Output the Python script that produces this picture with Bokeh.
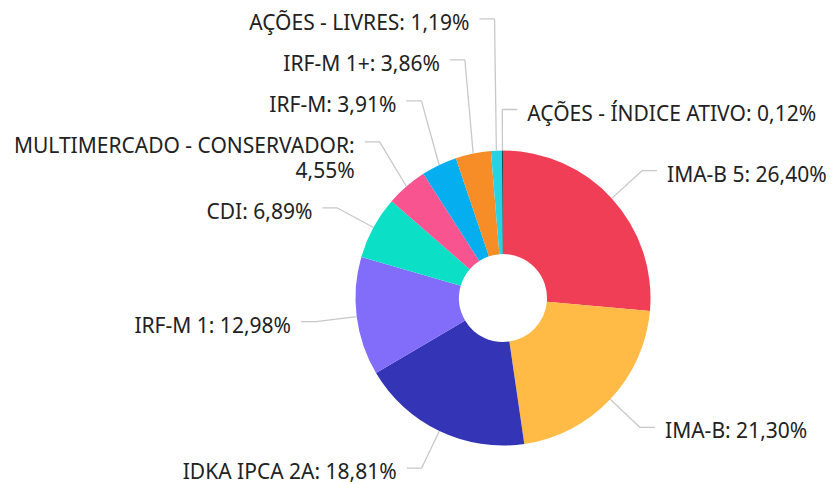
import math
from bokeh.plotting import figure
from bokeh.embed import file_html
from bokeh.resources import INLINE
from bokeh.models import Range1d, ColumnDataSource
from bokeh.core.properties import value

# ---- data ----
categories = ["IMA-B 5", "IMA-B", "IDKA IPCA 2A", "IRF-M 1", "CDI",
              "MULTIMERCADO - CONSERVADOR", "IRF-M", "IRF-M 1+",
              "AÇÕES - LIVRES", "AÇÕES - ÍNDICE ATIVO"]
shares = [26.40, 21.30, 18.81, 12.98, 6.89, 4.55, 3.91, 3.86, 1.19, 0.12]
colors = ["#EF3E55", "#FFBB46", "#3434B6", "#826DFA", "#0BE0C6",
          "#F85590", "#05AEEF", "#F68D26", "#26D2E4", "#174F57"]

# ---- layout constants ----
W, H = 832, 484
CX, CY = 502.5, H - 297.5
R_OUT, R_IN = 147.5, 44
LEN1, LEN2, GAP = 41, 15, 10
SPACING, LINE_H = 41, 25
FONT_NAME = "Noto Sans"
FONT = "21px"
MID_OFF = 3

p = figure(width=W, height=H, output_backend="svg", toolbar_location=None,
           x_range=Range1d(0, W), y_range=Range1d(0, H), min_border=0)
p.axis.visible = False
p.grid.visible = False
p.outline_line_color = None

total = sum(shares)
starts, ends, mids = [], [], []
c = 0.0
for v in shares:
    c0 = c
    c1 = c + v / total
    starts.append(math.pi / 2 - 2 * math.pi * c1)
    ends.append(math.pi / 2 - 2 * math.pi * c0)
    mids.append(2 * math.pi * (c0 + c1) / 2)
    c = c1

src = ColumnDataSource(dict(start=starts, end=ends, color=colors))
p.annular_wedge(x=CX, y=CY, inner_radius=R_IN, outer_radius=R_OUT,
                start_angle="start", end_angle="end", direction="anticlock",
                fill_color="color", line_color=None, source=src)

def fmt(v):
    return f"{v:.2f}".replace(".", ",") + "%"

def est_width(s):
    return sum(12 if ch.isupper() else 9 for ch in s)

labels = []
for name, v, a in zip(categories, shares, mids):
    s, co = math.sin(a), math.cos(a)
    ex, ey = CX + R_OUT * s, CY + R_OUT * co
    bx, by = CX + (R_OUT + LEN1) * s, CY + (R_OUT + LEN1) * co
    right = s >= -0.01
    full = f"{name}: {fmt(v)}"
    if right:
        avail = W - (bx + LEN2 + GAP)
    else:
        avail = (bx - LEN2 - GAP) - 15
    lines = [f"{name}:", fmt(v)] if est_width(full) > avail else [full]
    labels.append(dict(ex=ex, ey=ey, bx=bx, by=by, right=right, lines=lines))

# avoid overlaps on the left side (push upward)
left = sorted([l for l in labels if not l["right"]], key=lambda l: l["by"])
prev = None
for l in left:
    if prev is not None:
        l["by"] = max(l["by"], prev + SPACING + LINE_H * (len(l["lines"]) - 1))
    prev = l["by"]

xs, ys = [], []
tx, ty, tt, ta = [], [], [], []
for l in labels:
    sign = 1 if l["right"] else -1
    hx = l["bx"] + sign * LEN2
    xs.append([l["ex"], l["bx"], hx])
    ys.append([l["ey"], l["by"], l["by"]])
    for k, line in enumerate(l["lines"]):
        tx.append(hx + sign * GAP)
        ty.append(l["by"] - MID_OFF - k * LINE_H)
        tt.append(line)
        ta.append("left" if l["right"] else "right")

p.multi_line(xs=xs, ys=ys, line_color="#C8C8C8", line_width=1.3)
tsrc = ColumnDataSource(dict(x=tx, y=ty, text=tt, align=ta))
p.text(x="x", y="y", text="text", text_align="align", text_baseline="middle",
       text_font=value(FONT_NAME), text_font_size=FONT,
       text_color="#222222", source=tsrc)

open("out.html", "w").write(file_html(p, INLINE))
